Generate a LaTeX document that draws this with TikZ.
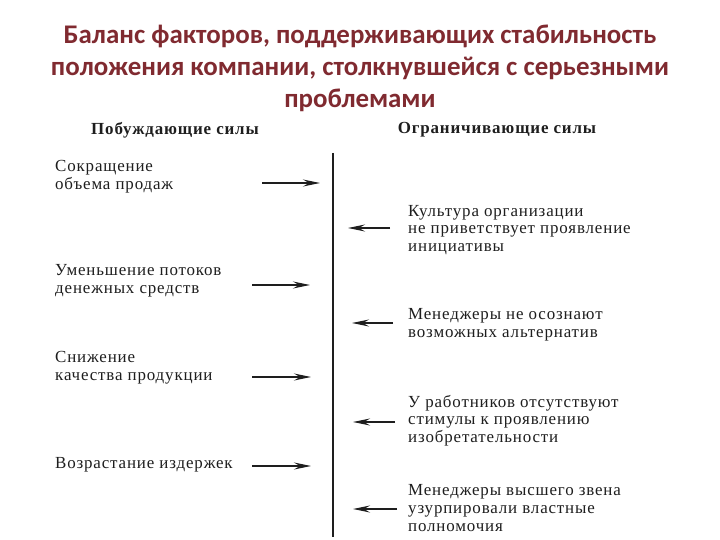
\documentclass[tikz,border=0pt]{standalone}
\usepackage{fontspec}
\setmainfont{Liberation Serif}[LetterSpace=5]
\newfontfamily\titlefont{Carlito}
\usetikzlibrary{arrows.meta}
\definecolor{titlered}{RGB}{128,42,48}
\definecolor{inkgray}{RGB}{30,30,30}
\tikzset{
  titletext/.style={font=\titlefont\bfseries\fontsize{27}{32}\selectfont, text=titlered, align=center, inner sep=0pt},
  headtext/.style={font=\bfseries\fontsize{17}{19}\selectfont, text=inkgray, inner sep=0pt},
  lefttext/.style={font=\fontsize{17}{17.8}\selectfont, text=inkgray, align=left, anchor=west, inner sep=0pt},
  righttext/.style={font=\fontsize{17}{17.8}\selectfont, text=inkgray, align=left, anchor=west, inner sep=0pt},
  force/.style={draw=inkgray, line width=1.5pt, -{Stealth[length=17bp, width=7bp, inset=6bp]}},
  axisline/.style={draw=inkgray, line width=1.2pt}
}
\begin{document}
\begin{tikzpicture}[x=1bp, y=-1bp]
\useasboundingbox[fill=white] (0,0) rectangle (720,540);
% title
\node[titletext] (title) at (360,68) {Баланс факторов, поддерживающих стабильность\\положения компании, столкнувшейся с серьезными\\проблемами};
% headers
\node[headtext] (hl) at (175,130) {Побуждающие силы};
\node[headtext] (hr) at (497,130) {Ограничивающие силы};
% central line
\coordinate (top) at (333,153);
\coordinate (bot) at (333,537);
\draw[axisline] (top) -- (bot);
% left forces
\node[lefttext] (l1) at (55,176.5) {Сокращение\\объема продаж};
\node[lefttext] (l2) at (55,281) {Уменьшение потоков\\денежных средств};
\node[lefttext] (l3) at (55,367.5) {Снижение\\качества продукции};
\node[lefttext] (l4) at (55,465) {Возрастание издержек};
% right forces
\node[righttext] (r1) at (408,230) {Культура организации\\не приветствует проявление\\инициативы};
\node[righttext] (r2) at (408,324.5) {Менеджеры не осознают\\возможных альтернатив};
\node[righttext] (r3) at (408,420.5) {У работников отсутствуют\\стимулы к проявлению\\изобретательности};
\node[righttext] (r4) at (408,508) {Менеджеры высшего звена\\узурпировали властные\\полномочия};
% arrow coordinates
\coordinate (a1s) at (262,183); \coordinate (a1e) at (320,183);
\coordinate (a2s) at (252,285); \coordinate (a2e) at (310,285);
\coordinate (a3s) at (252,377); \coordinate (a3e) at (311,377);
\coordinate (a4s) at (252,466); \coordinate (a4e) at (311,466);
\coordinate (b1s) at (390,228); \coordinate (b1e) at (348,228);
\coordinate (b2s) at (393,323); \coordinate (b2e) at (352,323);
\coordinate (b3s) at (395,422); \coordinate (b3e) at (353,422);
\coordinate (b4s) at (397,509); \coordinate (b4e) at (353,509);
\draw[force] (a1s) -- (a1e);
\draw[force] (a2s) -- (a2e);
\draw[force] (a3s) -- (a3e);
\draw[force] (a4s) -- (a4e);
\draw[force] (b1s) -- (b1e);
\draw[force] (b2s) -- (b2e);
\draw[force] (b3s) -- (b3e);
\draw[force] (b4s) -- (b4e);
\end{tikzpicture}
\end{document}
